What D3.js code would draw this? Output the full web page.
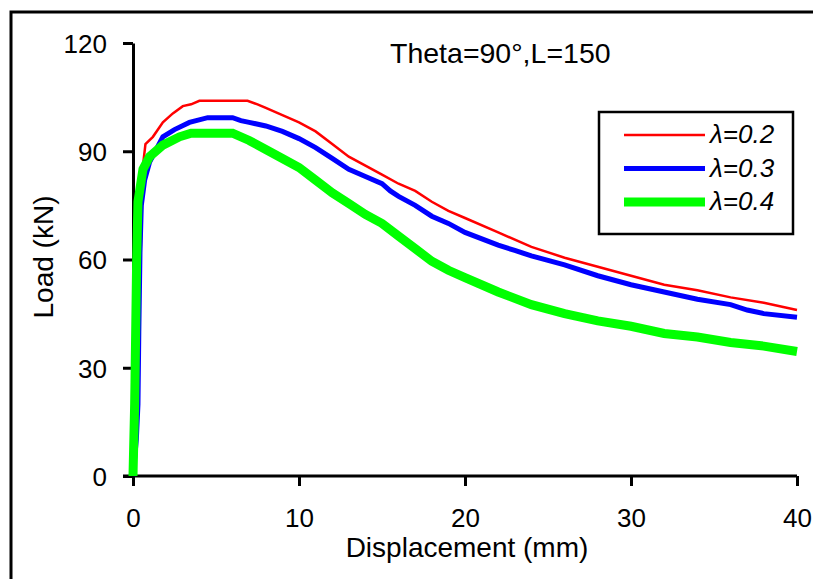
<!DOCTYPE html>
<html>
<head>
<meta charset="utf-8">
<script src="https://cdn.jsdelivr.net/npm/d3@7"></script>
<style>
body { margin: 0; background: #fff; }
text { font-family: "Liberation Sans", Arial, sans-serif; fill: #000; }
</style>
</head>
<body>
<div id="chart"></div>
<script>
// Load-displacement curves: [displacement (mm), load (kN)]
var lam02 = [[0,0],[0.3,30],[0.45,60],[0.6,86],[0.75,92],[1.2,94],[1.8,98],[2.4,100.5],[3,102.5],[3.5,103],[4,104],
	[5,104],[6.9,104],[7.5,103],[8,102],[9,100],[10,98],[11,95.5],[12,92],[13,88.5],[14,86],[15,83.5],[16,81],[17,79],
	[18,76],[19,73.5],[20,71.5],[22,67.5],[24,63.5],[26,60.5],[28,58],[30,55.5],[32,53],[34,51.5],[36,49.5],[38,48],[40,46]];
var lam03 = [[0,0],[0.2,10],[0.3,20],[0.35,40],[0.42,62],[0.5,75],[0.7,82],[1,87],[1.8,94],[2.5,96],[3.4,98],[4.5,99.3],
	[6,99.3],[6.5,98.5],[7,98],[8,97],[9,95.5],[10,93.5],[11,91],[12,88],[13,85],[14,83],[15,81],[15.5,79],[16,77.5],
	[17,75],[18,72],[19,70],[20,67.5],[22,64],[23,62.5],[24,61],[26,58.5],[28,55.5],[30,53],[32,51],[34,49],[36,47.5],
	[37,46],[38,45],[40,44]];
var lam04 = [[0,0],[0.1,20],[0.12,26],[0.22,60],[0.3,76],[0.6,85],[1,88.5],[1.8,91.7],[2.8,94],[3.5,95],[6,95],[7,93],
	[8,90.5],[9,88],[10,85.5],[11,82],[12,78.5],[13,75.5],[14,72.5],[15,70],[16,66.5],[17,63],[18,59.5],[19,57],[20,55],
	[22,51],[24,47.5],[26,45],[28,43],[30,41.5],[32,39.5],[34,38.5],[36,37],[38,36],[40,34.5]];

var seriesNames = ["λ=0.2", "λ=0.3", "λ=0.4"];
var xTicks = [0, 10, 20, 30, 40];
var yTicks = [0, 30, 60, 90, 120];

var width = 813;
var height = 579;

var svg = d3.select("#chart").append("svg")
		.attr("width", width)
		.attr("height", height);

// outer frame, runs off the right and bottom edges
svg.append("rect")
		.attr("x", 11).attr("y", 12)
		.attr("width", 900).attr("height", 700)
		.attr("fill", "none")
		.attr("stroke", "#000")
		.attr("stroke-width", 3);

var x = d3.scaleLinear().domain([0, 40]).range([133, 797]);
var y = d3.scaleLinear().domain([0, 120]).range([476, 43]);

var xAxis = svg.append("g")
		.attr("transform", "translate(0,476)")
		.call(d3.axisBottom(x).tickValues(xTicks).tickSize(10).tickPadding(23).tickSizeOuter(0));
var yAxis = svg.append("g")
		.attr("transform", "translate(133,0)")
		.call(d3.axisLeft(y).tickValues(yTicks).tickSize(10).tickPadding(16).tickSizeOuter(0));

[xAxis, yAxis].forEach(function(g) {
	g.select(".domain").attr("stroke-width", 3);
	g.selectAll(".tick line").attr("stroke-width", 3);
	g.selectAll(".tick text")
			.style("font-family", "'Liberation Sans', Arial, sans-serif")
			.style("font-size", "26px");
});
// x axis line starts at the left tip of the y ticks
xAxis.select(".domain").attr("d", "M123,0H797");
// y labels sit centred on the tick
yAxis.selectAll(".tick text").attr("dy", "0.36em");

var line = d3.line()
		.x(function(d) { return x(d[0]); })
		.y(function(d) { return y(d[1]); });

var series = [
	{data: lam02, color: "#ff0000", w: 2.5},
	{data: lam03, color: "#0000ff", w: 5},
	{data: lam04, color: "#00ff00", w: 9}
];

svg.selectAll("path.curve")
		.data(series)
		.enter().append("path")
		.attr("class", "curve")
		.attr("d", function(d) { return line(d.data); })
		.attr("fill", "none")
		.attr("stroke", function(d) { return d.color; })
		.attr("stroke-width", function(d) { return d.w; })
		.attr("stroke-linejoin", "miter");

// titles
svg.append("text")
		.attr("x", 390).attr("y", 63)
		.style("font-size", "28.5px")
		.text("Theta=90°,L=150");

svg.append("text")
		.attr("x", 467).attr("y", 557)
		.attr("text-anchor", "middle")
		.style("font-size", "28px")
		.text("Displacement (mm)");

svg.append("text")
		.attr("transform", "translate(53,257) rotate(-90)")
		.attr("text-anchor", "middle")
		.style("font-size", "28px")
		.text("Load (kN)");

// legend
var legend = svg.append("g");
legend.append("rect")
		.attr("x", 599).attr("y", 112)
		.attr("width", 194).attr("height", 122)
		.attr("fill", "#fff")
		.attr("stroke", "#000")
		.attr("stroke-width", 2.5);

var legY = d3.scalePoint().domain(seriesNames).range([135, 202]);

var item = legend.selectAll("g.item")
		.data(series)
		.enter().append("g")
		.attr("class", "item");
item.append("line")
		.attr("x1", 624).attr("x2", 705)
		.attr("y1", function(d, i) { return legY(seriesNames[i]); })
		.attr("y2", function(d, i) { return legY(seriesNames[i]); })
		.attr("stroke", function(d) { return d.color; })
		.attr("stroke-width", function(d) { return d.w; });
item.append("text")
		.attr("x", 710)
		.attr("y", function(d, i) { return legY(seriesNames[i]) + 8; })
		.style("font-size", "26px")
		.style("font-style", "italic")
		.text(function(d, i) { return seriesNames[i]; });
</script>
</body>
</html>
